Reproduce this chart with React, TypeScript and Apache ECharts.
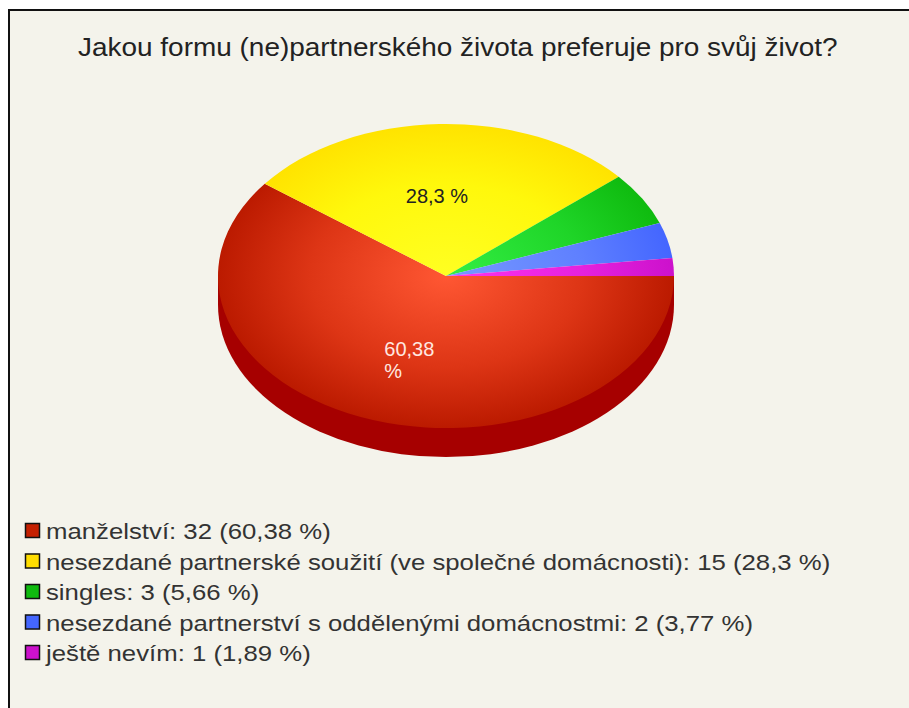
import React, { useEffect, useRef } from "react";
import * as echarts from "echarts";

const titleText = "Jakou formu (ne)partnerského života preferuje pro svůj život?";
const categories = [
  "manželství",
  "nesezdané partnerské soužití (ve společné domácnosti)",
  "singles",
  "nesezdané partnerství s oddělenými domácnostmi",
  "ještě nevím",
];
const counts = [32, 15, 3, 2, 1];
const percents = ["60,38", "28,3", "5,66", "3,77", "1,89"];
const sliceLabels = ["60,38\n%", "28,3 %", "", "", ""];
const labelColors = ["#ffe8e0", "#222222", "#222222", "#222222", "#222222"];
const edgeColors = ["#bb1a00", "#ffe300", "#0fbb0f", "#4466ff", "#cc11cc"];
const midColors = ["#dd3515", "#fff80c", "#1fd528", "#5f80ff", "#e522dd"];
const centerColors = ["#ff5733", "#ffff22", "#33ee44", "#7799ff", "#ff33ee"];
const legendSwatches = ["#c41f00", "#ffdd00", "#0fbb0f", "#4466ff", "#cc11cc"];
const depthColor = "#a60000";

const FONT = '"Liberation Sans", Arial, sans-serif';
const CX = 446, CY = 276, RX = 228, RY = 152, DEPTH = 29;
const LEGEND_TOP = 530.4, LEGEND_STEP = 30.5;
const total = counts.reduce((a, b) => a + b, 0);

function makeRender(index: number) {
  return (_params: any, api: any) => {
    const before = counts.slice(0, index).reduce((a, b) => a + b, 0);
    const start = (before / total) * Math.PI * 2;
    const end = start + (api.value(0) / total) * Math.PI * 2;
    const mid = (start + end) / 2;
    const children: any[] = [];
    if (start < Math.PI) {
      if (index === 0) {
        children.push({
          type: "rect",
          shape: { x: CX - RX, y: CY, width: RX * 2, height: DEPTH },
          style: { fill: depthColor },
        });
      }
      children.push({
        type: "group",
        x: CX,
        y: CY + DEPTH,
        scaleY: RY / RX,
        children: [
          {
            type: "sector",
            shape: { cx: 0, cy: 0, r0: 0, r: RX, startAngle: start, endAngle: Math.min(end, Math.PI), clockwise: true },
            style: { fill: depthColor },
          },
        ],
      });
    }
    children.push({
      type: "group",
      x: CX,
      y: CY,
      scaleY: RY / RX,
      children: [
        {
          type: "sector",
          shape: { cx: 0, cy: 0, r0: 0, r: RX, startAngle: start, endAngle: end, clockwise: true },
          style: {
            fill: {
              type: "radial",
              x: 0,
              y: 0,
              r: RX,
              global: true,
              colorStops: [
                { offset: 0, color: centerColors[index] },
                { offset: 0.6, color: midColors[index] },
                { offset: 1, color: edgeColors[index] },
              ],
            },
          },
        },
      ],
    });
    if (sliceLabels[index]) {
      const px = CX + Math.cos(mid) * RX * 0.53;
      const py = CY + Math.sin(mid) * RY * 0.53;
      const multi = sliceLabels[index].includes("\n");
      children.push({
        type: "text",
        x: multi ? px - 23 : px - 5.5,
        y: multi ? py + 8 : py + 1,
        style: {
          text: sliceLabels[index],
          fill: labelColors[index],
          fontSize: 20,
          fontFamily: FONT,
          lineHeight: 22,
          align: multi ? "left" : "center",
          verticalAlign: "middle",
        },
      });
    }
    return { type: "group", children };
  };
}

export default function App() {
  const ref = useRef<HTMLDivElement>(null);
  useEffect(() => {
    const chart = echarts.init(ref.current!, undefined, { renderer: "svg" });
    const names = categories.map((c, i) => `${c}: ${counts[i]} (${percents[i]} %)`);
    const legendItems = names.flatMap((name, i) => [
      {
        type: "rect",
        shape: { x: 25.5, y: LEGEND_TOP + i * LEGEND_STEP - 7, width: 14, height: 14 },
        style: { fill: legendSwatches[i], stroke: "#111111", lineWidth: 1.5 },
      },
      {
        type: "text",
        x: 46,
        y: LEGEND_TOP + i * LEGEND_STEP + 1,
        scaleX: 1.12,
        style: { text: name, fontFamily: FONT, fontSize: 23, fill: "#333333", verticalAlign: "middle", align: "left" },
      },
    ]);
    chart.setOption({
      animation: false,
      backgroundColor: "#ffffff",
      graphic: [
        {
          type: "rect",
          z: -10,
          shape: { x: 9, y: 10, width: 920, height: 720 },
          style: { fill: "#f4f3eb", stroke: "#111111", lineWidth: 2 },
        },
        {
          type: "text",
          x: 78,
          y: 47,
          scaleX: 1.096,
          style: { text: titleText, fontFamily: FONT, fontSize: 25.5, fill: "#222222", verticalAlign: "middle", align: "left" },
        },
        ...legendItems,
      ],
      series: names.map((name, i) => ({
        type: "custom",
        name,
        coordinateSystem: "none",
        silent: true,
        itemStyle: { color: edgeColors[i] },
        renderItem: makeRender(i),
        data: [[counts[i]]],
      })),
    });
    return () => chart.dispose();
  }, []);
  return <div ref={ref} style={{ position: "absolute", left: 0, top: 0, width: 909, height: 708 }} />;
}
